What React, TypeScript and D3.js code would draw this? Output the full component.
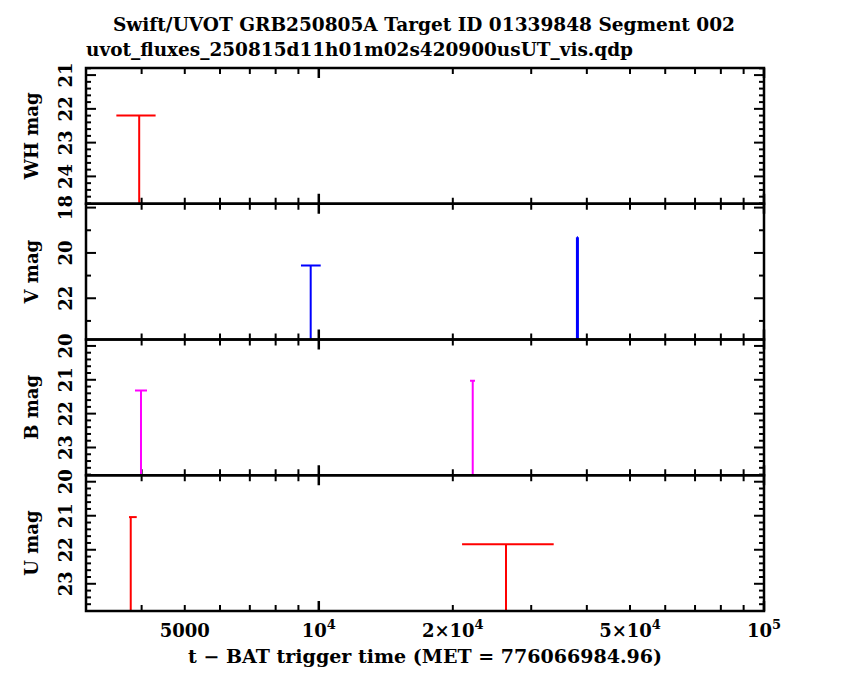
import * as d3 from "d3";

// ---- data ----
const titleText = "Swift/UVOT GRB250805A Target ID 01339848 Segment 002";
const fileText = "uvot_fluxes_250815d11h01m02s420900usUT_vis.qdp";
const xTitle = "t \u2212 BAT trigger time (MET = 776066984.96)";

const filters = ["WH", "V", "B", "U"];
const filterColors = ["#ff0000", "#0000ff", "#ff00ff", "#ff0000"];

// y range per panel (top value, bottom value) - magnitudes, brighter on top
const magDomains: [number, number][] = [
  [20.79, 24.81],
  [17.83, 23.82],
  [19.81, 23.82],
  [19.81, 23.8],
];
const magMajor = [
  [21, 22, 23, 24],
  [18, 20, 22],
  [20, 21, 22, 23],
  [20, 21, 22, 23],
];
const magMinorStep = [0.2, 1, 0.2, 0.2];

// upper limits: t, time bin, limiting magnitude
interface Obs { t: number; tLo: number; tHi: number; mag: number; }
const whObs: Obs[] = [{ t: 3950, tLo: 3510, tHi: 4300, mag: 22.2 }];
const vObs: Obs[] = [
  { t: 9590, tLo: 9120, tHi: 10100, mag: 20.56 },
  { t: 38100, tLo: 38000, tHi: 38200, mag: 19.31 },
];
const bObs: Obs[] = [
  { t: 3987, tLo: 3865, tHi: 4113, mag: 21.32 },
  { t: 22170, tLo: 21860, tHi: 22430, mag: 21.03 },
];
const uObs: Obs[] = [
  { t: 3781, tLo: 3747, tHi: 3900, mag: 21.04 },
  { t: 26330, tLo: 20980, tHi: 33700, mag: 21.84 },
];
const allObs = [whObs, vObs, bObs, uObs];

const xDomain: [number, number] = [3000, 1e5];
const xMajor = [1e4, 1e5];
const xMinor = [4000, 5000, 6000, 7000, 8000, 9000, 2e4, 3e4, 4e4, 5e4, 6e4, 7e4, 8e4, 9e4];
const xLabels: { v: number; base: string; exp?: string }[] = [
  { v: 5000, base: "5000" },
  { v: 1e4, base: "10", exp: "4" },
  { v: 2e4, base: "2\u00d710", exp: "4" },
  { v: 5e4, base: "5\u00d710", exp: "4" },
  { v: 1e5, base: "10", exp: "5" },
];

const W = 850, H = 680;
const margin = { top: 68, right: 86, bottom: 69, left: 86 };
const font = "'DejaVu Serif', serif";

export default function App() {
  const innerH = H - margin.top - margin.bottom;
  const panelH = innerH / filters.length;
  const x = d3.scaleLog().domain(xDomain).range([margin.left, W - margin.right]);
  const x0 = margin.left, x1 = W - margin.right;

  return (
    <svg width={W} height={H} style={{ position: "absolute", left: 0, top: 0, background: "#fff" }}
      fontFamily={font} fontWeight="bold">
      <defs>
        {filters.map((f, i) => (
          <clipPath id={`clip-${f}`} key={f}>
            <rect x={x0} y={margin.top + i * panelH} width={x1 - x0} height={panelH} />
          </clipPath>
        ))}
      </defs>

      <text x={424} y={31} textAnchor="middle" fontSize={18} textLength={622} lengthAdjust="spacingAndGlyphs">{titleText}</text>
      <text x={86} y={56} fontSize={18} textLength={547} lengthAdjust="spacingAndGlyphs">{fileText}</text>

      {filters.map((f, i) => {
        const top = margin.top + i * panelH;
        const bot = top + panelH;
        const y = d3.scaleLinear().domain(magDomains[i]).range([top, bot]);
        const [d0, d1] = magDomains[i];
        const step = magMinorStep[i];
        const minor = d3.range(Math.ceil(d0 / step) * step, d1, step)
          .filter(v => !magMajor[i].some(m => Math.abs(m - v) < 1e-6));
        const color = filterColors[i];
        return (
          <g key={f}>
            {/* y ticks left + right */}
            {magMajor[i].map(v => (
              <g key={`M${v}`} stroke="#000" strokeWidth={2}>
                <line x1={x0} x2={x0 + 10} y1={y(v)} y2={y(v)} />
                <line x1={x1} x2={x1 - 10} y1={y(v)} y2={y(v)} />
              </g>
            ))}
            {minor.map(v => (
              <g key={`m${v.toFixed(2)}`} stroke="#000" strokeWidth={2}>
                <line x1={x0} x2={x0 + 5} y1={y(v)} y2={y(v)} />
                <line x1={x1} x2={x1 - 5} y1={y(v)} y2={y(v)} />
              </g>
            ))}
            {magMajor[i].map(v => (
              <text key={`L${v}`} transform={`translate(72,${y(v)}) rotate(-90)`} textAnchor="middle"
                fontSize={18}>{v}</text>
            ))}
            <text transform={`translate(38,${(top + bot) / 2}) rotate(-90)`} textAnchor="middle" fontSize={18}>
              {`${f} mag`}
            </text>

            {/* x ticks top + bottom of each panel */}
            {xMinor.map(v => (
              <g key={`xm${v}`} stroke="#000" strokeWidth={2}>
                <line x1={x(v)} x2={x(v)} y1={top} y2={top + 6} />
                <line x1={x(v)} x2={x(v)} y1={bot} y2={bot - 6} />
              </g>
            ))}
            {xMajor.map(v => (
              <g key={`xM${v}`} stroke="#000" strokeWidth={2.5}>
                <line x1={x(v)} x2={x(v)} y1={top} y2={top + 10} />
                <line x1={x(v)} x2={x(v)} y1={bot} y2={bot - 10} />
              </g>
            ))}

            {/* upper limits */}
            <g clipPath={`url(#clip-${f})`} stroke={color} fill="none">
              {allObs[i].map((o, k) => {
                const narrow = x(o.tHi) - x(o.tLo) < 3;
                return (
                  <g key={k}>
                    <line x1={x(o.tLo)} x2={x(o.tHi)} y1={y(o.mag)} y2={y(o.mag)} strokeWidth={2} />
                    <line x1={x(o.t)} x2={x(o.t)} y1={y(o.mag)} y2={bot + 5} strokeWidth={narrow ? 3 : 2} />
                  </g>
                );
              })}
            </g>

            <rect x={x0} y={top} width={x1 - x0} height={panelH} fill="none" stroke="#000" strokeWidth={2.5} />
          </g>
        );
      })}

      {xLabels.map(l => (
        <text key={l.v} x={x(l.v)} y={637} textAnchor="middle" fontSize={18}>
          {l.base}
          {l.exp && <tspan dy={-8} fontSize={13}>{l.exp}</tspan>}
        </text>
      ))}
      <text x={425} y={663} textAnchor="middle" fontSize={18} textLength={474} lengthAdjust="spacingAndGlyphs">{xTitle}</text>
    </svg>
  );
}
